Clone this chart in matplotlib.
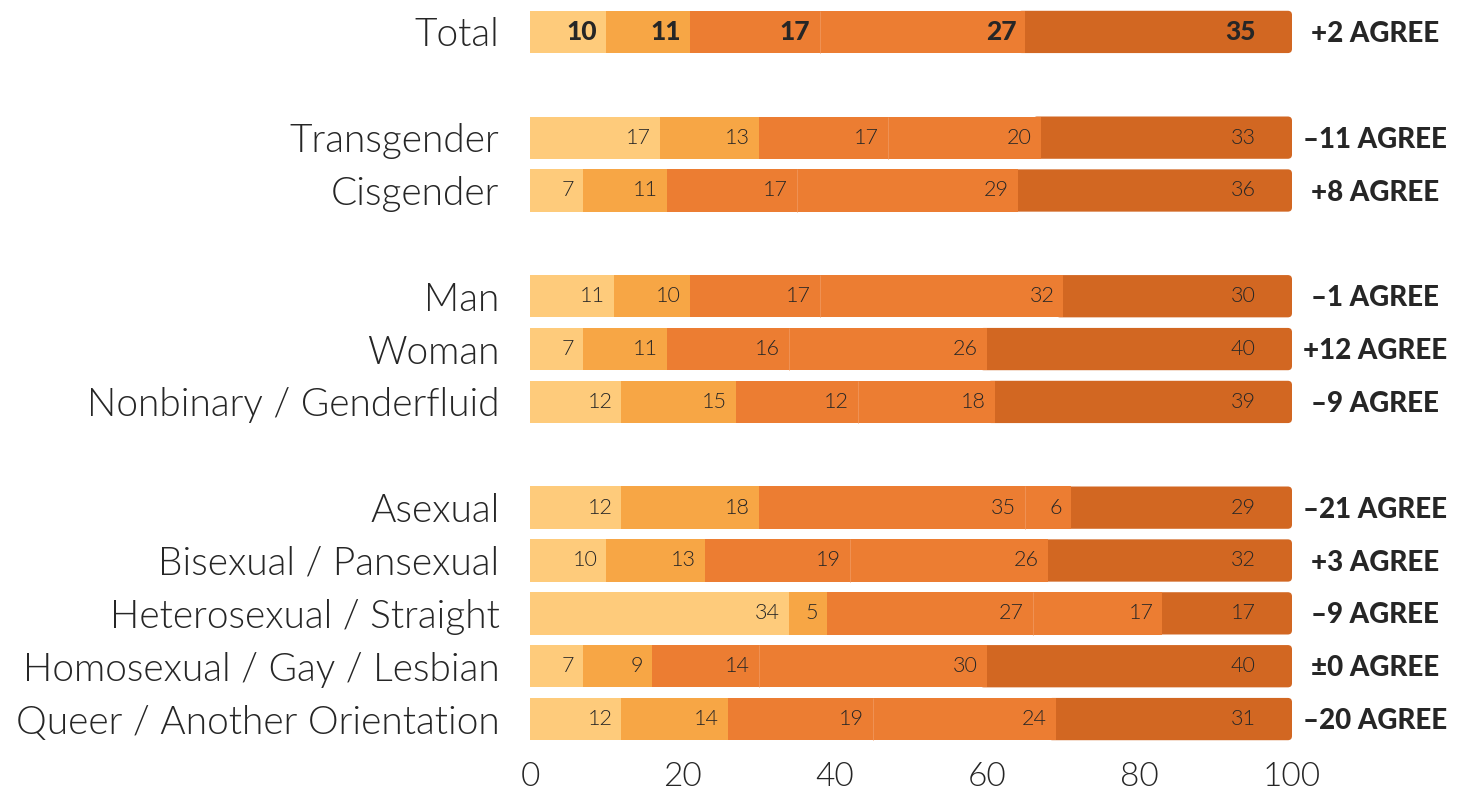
import numpy as np
import matplotlib.pyplot as plt
from matplotlib.patches import FancyBboxPatch
from matplotlib.transforms import blended_transform_factory

# groups of rows, top to bottom (a blank row goes between groups)
groups = [
    ["Total"],
    ["Transgender", "Cisgender"],
    ["Man", "Woman", "Nonbinary / Genderfluid"],
    ["Asexual", "Bisexual / Pansexual", "Heterosexual / Straight",
     "Homosexual / Gay / Lesbian", "Queer / Another Orientation"],
]

# five response shares per row (bar widths as drawn)
s1 = [10, 17, 7, 11, 7, 12, 12, 10, 34, 7, 12]
s2 = [11, 13, 11, 10, 11, 15, 18, 13, 5, 9, 14]
s3 = [17, 17, 17, 17, 16, 16, 35, 19, 27, 14, 19]
s4 = [27, 20, 29, 32, 26, 18, 6, 26, 17, 30, 24]
s5 = [35, 33, 36, 30, 40, 39, 29, 32, 17, 40, 31]

# printed label differs from the drawn width in one cell
label_fix = {(5, 2): "12"}

net = ["+2 AGREE", "–11 AGREE", "+8 AGREE", "–1 AGREE", "+12 AGREE",
       "–9 AGREE", "–21 AGREE", "+3 AGREE", "–9 AGREE", "±0 AGREE",
       "–20 AGREE"]

colors = ["#FECB7B", "#F7A645", "#EC7D32", "#EC7D32", "#D26722"]
txt = "#262626"
FONT = "Lato"
LIGHT = 300

# row positions from the groups
labels, ypos = [], []
y = 0
for g in groups:
    for name in g:
        labels.append(name)
        ypos.append(y)
        y += 1
    y += 1
ypos = np.array(ypos)

data = np.array([s1, s2, s3, s4, s5]).T
lefts = np.hstack([np.zeros((len(data), 1)), np.cumsum(data, axis=1)[:, :-1]])

W, H = 1469, 792
fig = plt.figure(figsize=(W / 100, H / 100), dpi=100)
ax = fig.add_axes([530 / W, 1 - 745.5 / H, 762 / W, 740 / H])
h = 0.8

ax.set_xlim(0, 100)
ax.set_ylim(ypos.max() + 0.5, -0.5)

# aspect for rounded corners (px per data unit)
px_x = 762 / 100
px_y = 740 / (ypos.max() + 1)
asp = (4 / px_y) / (4 / px_x)

for i in range(len(data)):
    yy = ypos[i]
    for j in range(4):
        ax.barh(yy, data[i, j], left=lefts[i, j], height=h,
                color=colors[j], linewidth=0, zorder=2)
    # last segment with rounded right end
    lft = lefts[i, 4]
    p = FancyBboxPatch((lft - 1, yy - h / 2), data[i, 4] + 1, h,
                       boxstyle="round,pad=0,rounding_size=0.55",
                       mutation_aspect=asp, facecolor=colors[4],
                       edgecolor="none", zorder=1)
    ax.add_patch(p)
    # faint divider between the two same-coloured segments
    ax.vlines(lefts[i, 3], yy - h / 2, yy + h / 2, color="#F0955A",
              linewidth=0.6, zorder=3)

    bold = (i == 0)
    for j in range(5):
        end = lefts[i, j] + data[i, j]
        lab = label_fix.get((i, j), str(int(data[i, j])))
        off = -26 if j == 4 else -6.5
        ax.annotate(lab, (end, yy), xytext=(off, 0),
                    textcoords="offset points", ha="right", va="center",
                    fontsize=19 if bold else 15.5,
                    fontweight=900 if bold else LIGHT,
                    family=FONT, color=txt, zorder=4)

tr = blended_transform_factory(ax.transAxes, ax.transData)
for i, s in enumerate(net):
    ax.text(1.109, ypos[i] + 0.04, s, transform=tr, ha="center",
            va="center", fontsize=20, fontweight=900, family=FONT,
            color=txt)

ax.set_yticks(ypos)
ax.set_yticklabels(labels, fontsize=28, family=FONT, fontweight=LIGHT,
                   color=txt)
ax.set_xticks([0, 20, 40, 60, 80, 100])
ax.set_xticklabels(["0", "20", "40", "60", "80", "100"], fontsize=24,
                   family=FONT, fontweight=LIGHT, color=txt)
ax.tick_params(axis="both", length=0)
ax.tick_params(axis="y", pad=22)
ax.tick_params(axis="x", pad=12)
for sp in ax.spines.values():
    sp.set_visible(False)

fig.savefig("out.png", dpi=100)
